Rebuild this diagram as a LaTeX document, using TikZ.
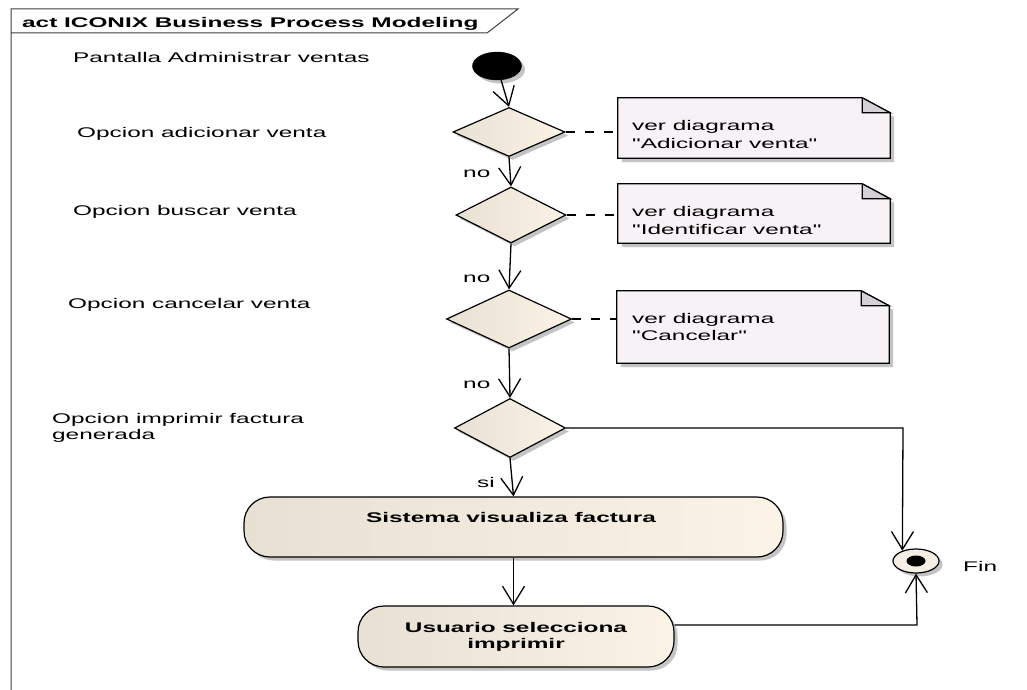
\documentclass[tikz,border=0pt]{standalone}
\usepackage{fontspec}
\setmainfont{Liberation Sans}[FakeStretch=1.74,Ligatures=TeXOff]
\usetikzlibrary{shapes.geometric,arrows.meta,shadows,calc}
\definecolor{dleft}{HTML}{E8E0D3}
\definecolor{dright}{HTML}{FBF3E5}
\definecolor{notefill}{HTML}{F6F2F6}
\definecolor{foldfill}{HTML}{D3D1D7}
\definecolor{shadowc}{HTML}{C4C4C4}
\definecolor{framec}{HTML}{404040}
\definecolor{finfill}{HTML}{F4EEE4}
\newcommand{\drawnote}[1]{%
  \fill[shadowc] ([shift={(4,4)}]#1.north west) -- ([shift={(-28,4)}]#1.north east) -- ([shift={(4,19)}]#1.north east) -- ([shift={(4,4)}]#1.south east) -- ([shift={(4,4)}]#1.south west) -- cycle;
  \draw[line width=1.2pt, fill=notefill] (#1.north west) -- ([xshift=-28pt]#1.north east) -- ([yshift=-15pt]#1.north east) -- (#1.south east) -- (#1.south west) -- cycle;
  \draw[line width=1.2pt, fill=foldfill, line join=miter] ([xshift=-28pt]#1.north east) -- ([xshift=-28pt,yshift=-15pt]#1.north east) -- ([yshift=-15pt]#1.north east) -- cycle;
}
\begin{document}
\begin{tikzpicture}[x=1pt,y=-1pt,
  txt/.style={font=\fontsize{14}{16}\selectfont, inner sep=0pt, anchor=base west},
  btxt/.style={font=\fontsize{14}{16}\selectfont\bfseries, inner sep=0pt},
  shad/.style={general shadow={fill=shadowc, shadow xshift=3.5pt, shadow yshift=-3.5pt}},
  decision/.style={diamond, draw=black, line width=1.2pt, inner sep=0pt, left color=dleft, right color=dright, shad},
  action/.style={rectangle, rounded corners=26pt, draw=black, line width=1.2pt, left color=dleft, right color=dright, inner sep=0pt, shad},
  notearea/.style={rectangle, inner sep=0pt},
  flow/.style={line width=1.3pt, -{Straight Barb[length=18pt,width=22pt,line width=1.3pt]}},
  notelink/.style={line width=1.2pt, dash pattern=on 9pt off 10pt},
]
\useasboundingbox (0,0) rectangle (1027,690);
\fill[white] (0,0) rectangle (1027,690);

% frame
\draw[framec, line width=1pt] (11,690) -- (11,9) -- (518,9) -- (487,33) -- (11,33);
\node[btxt, anchor=base west] (title) at (22,28) {act ICONIX Business Process Modeling};

% left labels
\node[txt] (l1) at (73,63) {Pantalla Administrar ventas};
\node[txt] (l2) at (77,138) {Opcion adicionar venta};
\node[txt] (l3) at (73,215) {Opcion buscar venta};
\node[txt] (l4) at (68,308) {Opcion cancelar venta};
\node[txt] (l5) at (52,423) {Opcion imprimir factura};
\node[txt] (l5b) at (52,439) {generada};

% nodes
\node[ellipse, fill=black, draw=black, minimum width=49pt, minimum height=28pt, inner sep=0pt, shad] (init) at (497,66) {};
\node[decision, minimum width=112pt, minimum height=49pt] (d1) at (509,132) {};
\node[decision, minimum width=110pt, minimum height=56pt] (d2) at (511,215) {};
\node[decision, minimum width=125pt, minimum height=58pt] (d3) at (509,319) {};
\node[decision, minimum width=111pt, minimum height=59pt] (d4) at (510,428) {};
\node[action, minimum width=539pt, minimum height=60pt] (a1) at (513.5,527) {};
\node[btxt, anchor=base] (a1t) at (511,522) {Sistema visualiza factura};
\node[action, minimum width=316pt, minimum height=61pt, align=center, font=\fontsize{14}{16}\selectfont\bfseries] (a2) at (516,636.5) {Usuario selecciona\\imprimir};
\node[ellipse, draw=black, line width=1.2pt, fill=finfill, minimum width=46pt, minimum height=24pt, inner sep=0pt, shad] (fin) at (916,561) {};
\node[ellipse, fill=black, minimum width=19pt, minimum height=11pt, inner sep=0pt] (findot) at (fin.center) {};
\node[txt] (fint) at (963,571) {Fin};

% notes
\node[notearea, minimum width=272pt, minimum height=60pt] (n1) at (754,128) {};
\node[notearea, minimum width=272pt, minimum height=59pt] (n2) at (754,213.5) {};
\node[notearea, minimum width=272pt, minimum height=72pt] (n3) at (753,327) {};
\drawnote{n1}
\drawnote{n2}
\drawnote{n3}
\node[txt] (n1a) at (632,130) {ver diagrama};
\node[txt] (n1b) at (632,148) {"Adicionar venta"};
\node[txt] (n2a) at (632,216) {ver diagrama};
\node[txt] (n2b) at (632,234) {"Identificar venta"};
\node[txt] (n3a) at (632,323) {ver diagrama};
\node[txt] (n3b) at (632,340) {"Cancelar"};

% guard labels
\node[txt] (no1) at (463,177) {no};
\node[txt] (no2) at (463,282) {no};
\node[txt] (no3) at (463,388) {no};
\node[txt] (si) at (477,487) {si};

% connectors
\draw[flow] (init) -- (d1.north);
\draw[flow] (d1.south) -- (d2.north);
\draw[flow] (d2.south) -- (d3.north);
\draw[flow] (d3.south) -- (d4.north);
\draw[flow] (d4.south) -- (a1.north);
\draw[flow] (a1.south) -- (a1.south |- a2.north);
\coordinate (k1) at (903,428);
\draw[flow] (d4.east) -- (k1) -- (fin.143);
\coordinate (k2) at (917,625);
\draw[flow] ($(a2.east)+(0,-11.5)$) -- (k2) -- (fin.south);

\draw[notelink] (d1.east) -- (d1.east -| n1.west);
\draw[notelink] (d2.east) -- (d2.east -| n2.west);
\draw[notelink] (d3.east) -- (d3.east -| n3.west);
\end{tikzpicture}
\end{document}
